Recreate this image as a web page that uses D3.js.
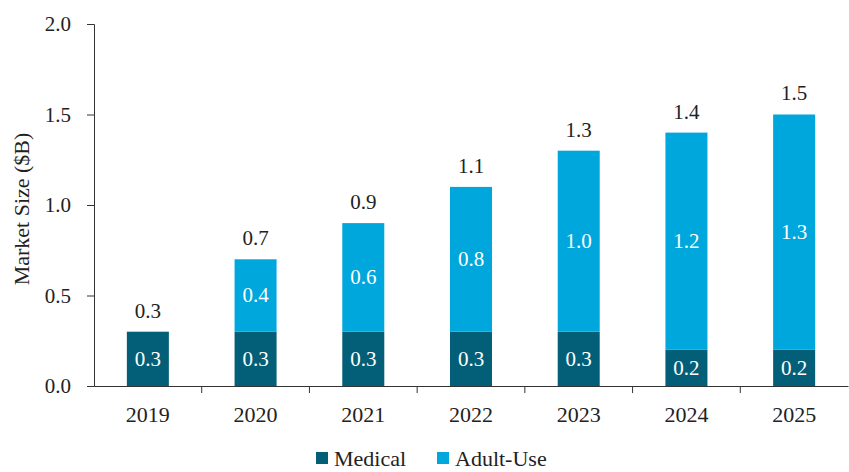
<!DOCTYPE html>
<html>
<head>
<meta charset="utf-8">
<script src="https://cdn.jsdelivr.net/npm/d3@7"></script>
<style>
  body { margin: 0; background: #fff; }
</style>
</head>
<body>
<div id="chart"></div>
<script>
// data
const years = ["2019", "2020", "2021", "2022", "2023", "2024", "2025"];
const medical = [0.3, 0.3, 0.3, 0.3, 0.3, 0.2, 0.2];
const adultUse = [0, 0.4, 0.6, 0.8, 1.0, 1.2, 1.3];
const totals = [0.3, 0.7, 0.9, 1.1, 1.3, 1.4, 1.5];
const yTicks = [0, 0.5, 1.0, 1.5, 2.0];

const margin = { top: 24, right: 1, bottom: 86, left: 94 };
const width = 849 - margin.left - margin.right;
const height = 472 - margin.top - margin.bottom;
const font = "'Liberation Serif', 'Times New Roman', serif";

const colMed = "#035f78";
const colAdult = "#00a7dd";

const svg = d3.select("#chart").append("svg")
  .attr("width", 849)
  .attr("height", 472);

const g = svg.append("g")
  .attr("transform", `translate(${margin.left},${margin.top})`);

const x = d3.scaleBand().domain(years).range([0, width]).paddingInner(0.61).paddingOuter(0.305);
const xBand = d3.scaleBand().domain(years).range([0, width]);
const y = d3.scaleLinear().domain([0, 2]).range([height, 0]);

// y axis
const yAxis = g.append("g")
  .call(d3.axisLeft(y).tickValues(yTicks).tickFormat(d3.format(".1f")).tickSize(7).tickPadding(16));
yAxis.selectAll("text").style("font-family", font).style("font-size", "21px").attr("fill", "#222");
yAxis.selectAll("line, path").attr("stroke", "#333");

// bars
const rows = years.map((yr, i) => ({ yr, med: medical[i], adult: adultUse[i], total: totals[i] }));

g.selectAll(".med").data(rows).join("rect")
  .attr("x", d => x(d.yr))
  .attr("width", x.bandwidth())
  .attr("y", d => y(d.med))
  .attr("height", d => y(0) - y(d.med))
  .attr("fill", colMed);

g.selectAll(".adult").data(rows.filter(d => d.adult > 0)).join("rect")
  .attr("x", d => x(d.yr))
  .attr("width", x.bandwidth())
  .attr("y", d => y(d.med + d.adult))
  .attr("height", d => y(d.med) - y(d.med + d.adult))
  .attr("fill", colAdult);

// labels inside segments
g.selectAll(".medlab").data(rows).join("text")
  .attr("x", d => x(d.yr) + x.bandwidth() / 2)
  .attr("y", d => (y(0) + y(d.med)) / 2)
  .attr("dy", "0.33em")
  .attr("text-anchor", "middle")
  .attr("fill", "#fff")
  .style("font-family", font)
  .style("font-size", "21px")
  .text(d => d.med.toFixed(1));

g.selectAll(".adultlab").data(rows.filter(d => d.adult > 0)).join("text")
  .attr("x", d => x(d.yr) + x.bandwidth() / 2)
  .attr("y", d => (y(d.med) + y(d.med + d.adult)) / 2)
  .attr("dy", "0.33em")
  .attr("text-anchor", "middle")
  .attr("fill", "#fff")
  .style("font-family", font)
  .style("font-size", "21px")
  .text(d => d.adult.toFixed(1));

// totals
g.selectAll(".totlab").data(rows).join("text")
  .attr("x", d => x(d.yr) + x.bandwidth() / 2)
  .attr("y", d => y(d.total) - 21)
  .attr("dy", "0.33em")
  .attr("text-anchor", "middle")
  .attr("fill", "#222")
  .style("font-family", font)
  .style("font-size", "21px")
  .text(d => d.total.toFixed(1));

// x axis
const xAxis = g.append("g")
  .attr("transform", `translate(0,${height})`)
  .call(d3.axisBottom(xBand).tickSize(0).tickPadding(20));
xAxis.selectAll("text").style("font-family", font).style("font-size", "22px").attr("fill", "#222");
xAxis.select("path").attr("stroke", "#333");

// tick marks between categories
g.selectAll(".xtick").data(years.slice(1)).join("line")
  .attr("x1", d => xBand(d))
  .attr("x2", d => xBand(d))
  .attr("y1", height)
  .attr("y2", height + 7)
  .attr("stroke", "#333");

// y label
svg.append("text")
  .attr("transform", "rotate(-90)")
  .attr("x", -(margin.top + height / 2) - 4)
  .attr("y", 21)
  .attr("dy", "0.35em")
  .attr("text-anchor", "middle")
  .attr("fill", "#222")
  .style("font-family", font)
  .style("font-size", "22px")
  .text("Market Size ($B)");

// legend
const legend = svg.append("g").attr("transform", "translate(316,452)");
const items = [{ name: "Medical", color: colMed, x: 0 }, { name: "Adult-Use", color: colAdult, x: 121 }];
items.forEach(it => {
  legend.append("rect").attr("x", it.x).attr("y", 0).attr("width", 12).attr("height", 12).attr("fill", it.color);
  legend.append("text").attr("x", it.x + 18).attr("y", 6).attr("dy", "0.36em")
    .attr("fill", "#222").style("font-family", font).style("font-size", "22px").text(it.name);
});
</script>
</body>
</html>
